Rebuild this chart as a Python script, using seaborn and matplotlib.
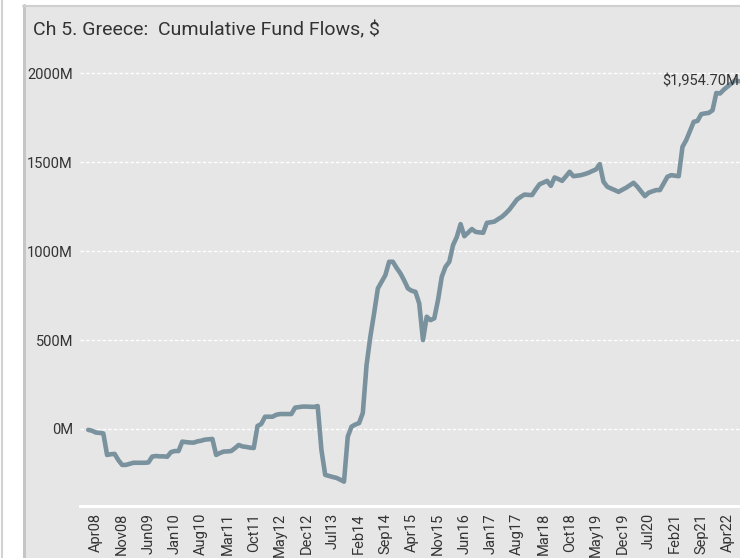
"""
Ch 5. Greece: Cumulative Fund Flows ($M), monthly Feb08 - Jul22.
"""

import matplotlib
matplotlib.use("Agg")
import matplotlib.pyplot as plt
from matplotlib.patches import Rectangle
from matplotlib.lines import Line2D
import numpy as np
import pandas as pd
import seaborn as sns

# Du lieu (doc tu hinh goc, don vi: trieu USD)
START_MONTH = "2008-02"
flows = [
    -5, -10, -20, -22, -25, -146, -142, -140, -175, -202, -202, -196,
    -190, -190, -190, -190, -188, -155, -152, -154, -154, -156, -130, -124,
    -124, -71, -74, -76, -77, -70, -66, -60, -58, -56, -146, -135,
    -127, -126, -124, -108, -90, -98, -101, -105, -107, 17, 28, 69,
    69, 69, 80, 84, 84, 84, 84, 120, 123, 126, 126, 125,
    124, 129, -118, -258, -264, -270, -275, -285, -296, -43, 13, 25,
    33, 90, 360, 519, 650, 790, 828, 865, 940, 940, 905, 875,
    835, 790, 777, 771, 706, 500, 631, 612, 622, 725, 856, 912,
    940, 1034, 1080, 1152, 1084, 1104, 1124, 1108, 1105, 1103, 1159, 1162,
    1166, 1180, 1193, 1212, 1234, 1262, 1290, 1305, 1318, 1316, 1315, 1347,
    1376, 1385, 1395, 1367, 1414, 1405, 1395, 1420, 1446, 1421, 1424, 1427,
    1433, 1440, 1450, 1459, 1489, 1390, 1362, 1352, 1343, 1333, 1345, 1356,
    1370, 1384, 1362, 1335, 1309, 1328, 1336, 1343, 1343, 1380, 1418, 1427,
    1424, 1421, 1586, 1624, 1675, 1727, 1732, 1770, 1774, 1777, 1792, 1889,
    1886, 1908, 1925, 1942, 1961, 1954.7,
]
tick_labels = [
    "Apr08", "Nov08", "Jun09", "Jan10", "Aug10", "Mar11", "Oct11", "May12",
    "Dec12", "Jul13", "Feb14", "Sep14", "Apr15", "Nov15", "Jun16", "Jan17",
    "Aug17", "Mar18", "Oct18", "May19", "Dec19", "Jul20", "Feb21", "Sep21",
    "Apr22",
]
y_ticks = [0, 500, 1000, 1500, 2000]
last_label = "$1,954.70M"

TITLE = "Ch 5. Greece:  Cumulative Fund Flows, $"
LINE_COLOR = "#7a929e"
PANEL_COLOR = "#e6e6e6"
TEXT_COLOR = "#333333"


def main():
    months = pd.date_range(START_MONTH, periods=len(flows), freq="MS")
    month_labels = [d.strftime("%b%y") for d in months]
    df = pd.DataFrame({"idx": np.arange(len(flows)), "flow": flows})
    tick_pos = [month_labels.index(t) for t in tick_labels]

    sns.set_style("white")
    plt.rcParams["font.family"] = ["Roboto", "DejaVu Sans"]

    fig = plt.figure(figsize=(7.4, 5.58), dpi=100)
    fig.patch.set_facecolor("white")

    # Khung xam nen + vien trai/tren (ve duoi axes)
    W, H = 740.0, 558.0
    fig.patches.append(Rectangle((23 / W, 0), 1 - 23 / W, 1 - 5 / H,
                                 transform=fig.transFigure, facecolor=PANEL_COLOR,
                                 edgecolor="none", zorder=-10))
    fig.lines.append(Line2D([24 / W, 24 / W], [0, 1 - 5 / H], transform=fig.transFigure,
                            color="#c6c6c6", lw=2.2, zorder=-5))
    fig.lines.append(Line2D([23 / W, 1], [1 - 5.5 / H, 1 - 5.5 / H], transform=fig.transFigure,
                            color="#cfcfcf", lw=1.5, zorder=-5))
    fig.lines.append(Line2D([2 / W, 2 / W], [0, 1], transform=fig.transFigure,
                            color="#d2d2d2", lw=1.5, zorder=-5))

    ax = fig.add_axes([80 / W, 1 - 506 / H, (W - 80) / W, (506 - 59) / H])
    ax.set_facecolor("none")
    ax.set_zorder(1)

    sns.lineplot(data=df, x="idx", y="flow", ax=ax, color=LINE_COLOR,
                 linewidth=3.3, solid_joinstyle="round", solid_capstyle="round", zorder=3)

    ax.set_xlim(-2.2, 173.3)
    ax.set_ylim(-433, 2080)

    ax.set_yticks(y_ticks)
    ax.set_yticklabels([f"{v}M" for v in y_ticks])
    ax.set_xticks(tick_pos)
    ax.set_xticklabels(tick_labels, rotation=90)
    ax.tick_params(axis="both", length=0, labelsize=10.5, colors=TEXT_COLOR)
    ax.tick_params(axis="y", pad=5)
    ax.tick_params(axis="x", pad=5)
    ax.set_xlabel("")
    ax.set_ylabel("")

    # Luoi ngang trang dang cham
    for v in y_ticks:
        ax.axhline(v, color="white", lw=1.0, ls=(0, (2.5, 1.5)), zorder=1)

    for side in ["top", "right", "left"]:
        ax.spines[side].set_visible(False)
    ax.spines["bottom"].set_color("white")
    ax.spines["bottom"].set_linewidth(2.2)
    ax.spines["bottom"].set_linestyle((0, (1, 1)))

    ax.annotate(last_label, xy=(df["idx"].iloc[-1], df["flow"].iloc[-1]),
                xytext=(0, 0), textcoords="offset points", ha="right", va="center",
                fontsize=10.5, color=TEXT_COLOR, zorder=4, annotation_clip=False)

    fig.text(33 / W, 1 - 30 / H, TITLE, fontsize=14, color=TEXT_COLOR,
             ha="left", va="center")

    fig.savefig("out.png", dpi=100, facecolor=fig.get_facecolor())
    plt.close(fig)
    return 0


if __name__ == "__main__":
    import sys
    sys.exit(main())
